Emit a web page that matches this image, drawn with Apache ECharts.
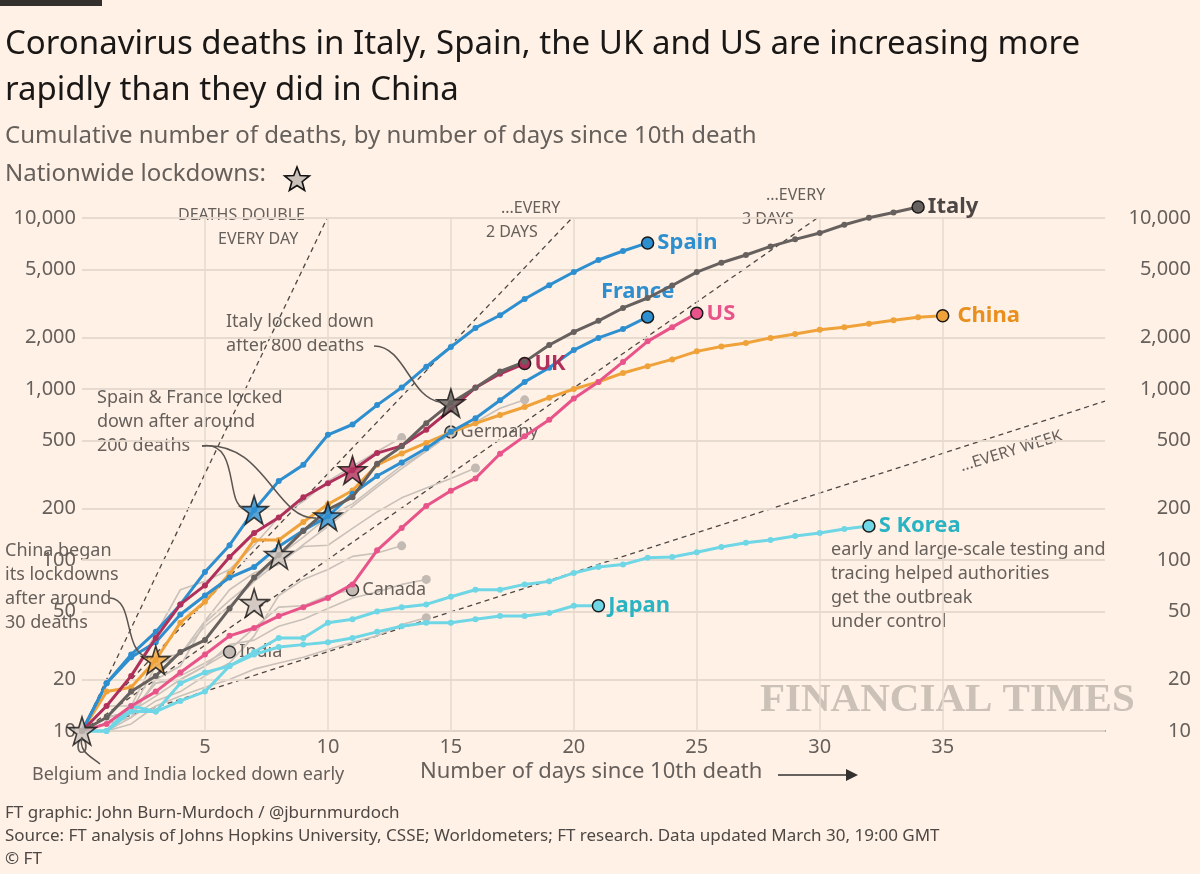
<!DOCTYPE html>
<html><head><meta charset="utf-8">
<script src="https://cdn.jsdelivr.net/npm/echarts@6/dist/echarts.min.js"></script>
<style>html,body{margin:0;padding:0;background:#fff1e5;}#c{width:1200px;height:874px;}</style>
</head><body><div id="c"></div>
<script>
// ---- data (cumulative deaths, index = days since 10th death)
const italy = [10,12,17,21,29,34,52,79,107,148,197,233,366,463,631,827,1016,1266,1441,1809,2158,2503,2978,3405,4032,4825,5476,6077,6820,7503,8165,9134,10023,10779,11591];
const spain = [10,19,28,38,55,85,122,196,290,360,540,620,805,1020,1350,1760,2275,2700,3360,4050,4830,5680,6410,7150];
const france = [10,19,27,33,48,62,79,91,120,149,180,244,310,372,450,562,674,860,1100,1331,1690,1990,2240,2640];
const uk = [10,14,21,35,55,71,104,144,177,233,281,335,422,465,578,759,1019,1228,1408];
const us = [10,11,14,17,22,28,36,40,47,53,60,72,114,154,207,254,300,418,530,660,880,1100,1440,1900,2300,2770];
const china = [10,17,18,26,43,57,83,131,131,167,212,255,360,420,484,560,630,705,785,890,1000,1100,1240,1360,1490,1660,1770,1860,1990,2100,2220,2300,2410,2520,2630,2680];
const skorea = [10,10,14,13,19,22,24,29,35,35,43,45,50,53,55,61,67,67,72,75,84,91,94,103,104,111,119,126,131,138,144,152,158];
const japan = [10,10,13,13,15,17,24,28,31,32,33,35,38,41,43,43,45,47,47,49,54,54];
const germany = [10,12,13,24,28,44,67,84,94,123,157,206,267,342,433,560];
const netherlands = [10,10,12,20,24,43,58,76,106,136,179,213,276,356,434,546,639,771,864];
const switzerland = [10,14,14,27,28,41,54,75,98,120,122,153,191,231,264,300,345];
const belgium = [10,14,21,37,67,75,88,122,178,220,289,353,431,520];
const sweden = [10,11,12,15,17,21,25,36,62,77,88,105,110,121];
const denmark = [10,12,13,16,20,24,32,34,41,45,52,60,65,72,77];
const other = [10,10,11,14,16,18,20,23,25,27,30,33,36,42,46];
const canada = [10,12,13,19,21,25,30,40,53,54,62,67];
const india = [10,12,13,19,20,24,29];
// lockdown stars: [day, deaths, fill]
const stars = [[0,10,'#c9c1ba'],[3,26,'#f0a23a'],[7,56,'#c9c1ba'],[8,107,'#c9c1ba'],[7,196,'#2e8fd0'],[10,180,'#2e8fd0'],[11,335,'#b0305c'],[15,827,'#66615e']];
// doubling guide endpoints
const guideDay = [[0,10],[9.97,10000]];
const guide2 = [[0,10],[19.93,10000]];
const guide3 = [[0,10],[29.9,10000]];
const guideWeek = [[0,10],[41.6,850]];
const yTicks = [10,20,50,100,200,500,1000,2000,5000,10000];
const xTicks = [5,10,15,20,25,30,35];

const STAR = 'path://M50,2 L61,36 L97,36 L68,57 L79,92 L50,71 L21,92 L32,57 L3,36 L39,36 Z';
const FONT = 'Noto Sans';
const toXY = a => a.map((v,i)=>[i,v]);

function main(name, arr, color, lab){
  const d = toXY(arr);
  const last = d.length-1;
  const data = d.map((p,i)=> i===last ? {value:p, symbolSize:12, itemStyle:{color:color,borderColor:'#1a1a1a',borderWidth:1.5},
     label:Object.assign({show:true,formatter:name,color:lab.tc||color,fontSize:22,fontWeight:'bold',fontFamily:FONT,position:'right',distance:3},lab.l||{})} : p);
  return {type:'line',name,data,clip:false,symbol:'circle',symbolSize:6,showSymbol:true,
    lineStyle:{color,width:3},itemStyle:{color},z:lab.z||5};
}
function grey(name, arr, lab){
  const d = toXY(arr), last=d.length-1;
  const data = d.map((p,i)=> i===last ? {value:p, symbol:'circle', symbolSize: lab?12:9,
    itemStyle:{color:'#c2bab3',borderColor: lab?'#333':'#c2bab3',borderWidth: lab?1.5:0},
    label: lab?{show:true,formatter:name,color:'#66605c',fontSize:18,fontFamily:FONT,position:'right',distance:3}:{show:false}} : {value:p,symbol:'none'});
  return {type:'line',name,data,symbol:'none',showSymbol:true,lineStyle:{color:'#c9c1ba',width:1.6},z:2};
}
function guide(d){
  return {type:'line',data:d,symbol:'none',silent:true,clip:false,lineStyle:{color:'#4d4845',width:1.3,type:[5,4]},z:1};
}
function starPts(cx,cy,r){
  const p=[];
  for(let i=0;i<10;i++){const a=-Math.PI/2+i*Math.PI/5;const rr=i%2?r*0.42:r;p.push([cx+rr*Math.cos(a),cy+rr*Math.sin(a)]);}
  return p;
}

const gridLines = [];
yTicks.forEach(v=>{
  const t = v.toLocaleString('en-US');
  gridLines.push({yAxis:v,label:{position:'start',formatter:t,distance:6}});
  gridLines.push({yAxis:v,label:{position:'end',formatter:t,align:'right',distance:86}});
});
xTicks.forEach(v=>gridLines.push({xAxis:v,label:{show:false}}));

const series = [
  {type:'line',data:[],markLine:{silent:true,symbol:'none',animation:false,
     lineStyle:{color:'#e6d9cc',width:1.5,type:'solid'},
     label:{color:'#66605c',fontSize:20,fontFamily:FONT},data:gridLines}},
  guide(guideDay),guide(guide2),guide(guide3),guide(guideWeek),
  grey('Netherlands',netherlands),grey('Switzerland',switzerland),grey('Belgium',belgium),
  grey('Sweden',sweden),grey('Denmark',denmark),grey('Other',other),
  grey('Germany',germany,true),grey('Canada',canada,true),grey('India',india,true),
  main('Japan',japan,'#6fd6e6',{tc:'#2ab4c3'}),
  main('S Korea',skorea,'#6fd6e6',{tc:'#2ab4c3'}),
  main('China',china,'#f0a23a',{tc:'#e88f1e',l:{distance:8}}),
  main('US',us,'#e8548a',{}),
  main('UK',uk,'#b0305c',{z:6}),
  main('France',france,'#2e8fd0',{l:{position:'top',offset:[-10,-4]}}),
  main('Italy',italy,'#66615e',{tc:'#4d4845',z:6}),
  main('Spain',spain,'#2e8fd0',{}),
  {type:'scatter',data:stars.map(s=>({value:[s[0],s[1]],itemStyle:{color:s[2]}})),symbol:STAR,symbolSize:28,
    itemStyle:{borderColor:'#111',borderWidth:1.6},z:10}
];

const txt = (x,y,t,o)=>({type:'text',left:x,top:y,style:Object.assign({text:t,fill:'#66605c',font:'18px "Noto Sans"',lineHeight:24},o||{})});
const small = (x,y,t)=>({type:'text',left:x,top:y,style:{text:t,fill:'#66605c',font:'16px "Noto Sans"'}});
const curve=(pts)=>({type:'bezierCurve',shape:{x1:pts[0],y1:pts[1],cpx1:pts[2],cpy1:pts[3],cpx2:pts[4],cpy2:pts[5],x2:pts[6],y2:pts[7]},style:{stroke:'#5a5552',lineWidth:1.5,fill:null},z:20});

const chart = echarts.init(document.getElementById('c'));
chart.setOption({
  backgroundColor:'#fff1e5',animation:false,
  grid:{left:82,right:95,top:218,bottom:143},
  xAxis:{type:'value',min:0,max:41.6,interval:5,splitLine:{show:false},
    axisLine:{lineStyle:{color:'#4d4845',width:1.5}},axisTick:{show:false},
    axisLabel:{color:'#66605c',fontSize:20,fontFamily:FONT,margin:6,formatter:v=>v<=35?v:''}},
  yAxis:{type:'log',logBase:10,min:10,max:10000,splitLine:{show:false},axisLine:{show:false},axisTick:{show:false},axisLabel:{show:false}},
  series,
  graphic:[
    {type:'rect',left:0,top:0,shape:{width:102,height:6},style:{fill:'#33302e'}},
    txt(5,22,'Coronavirus deaths in Italy, Spain, the UK and US are increasing more\nrapidly than they did in China',{fill:'#1a1817',font:'33px "Noto Sans"',lineHeight:46}),
    txt(5,124,'Cumulative number of deaths, by number of days since 10th death',{font:'24px "Noto Sans"'}),
    txt(5,162,'Nationwide lockdowns:',{font:'24px "Noto Sans"'}),
    {type:'polygon',shape:{points:starPts(297,180,13)},style:{fill:'#c9c1ba',stroke:'#111',lineWidth:1.6}},
    small(178,207,'DEATHS DOUBLE'), small(218,231,'EVERY DAY'),
    small(501,200,'...EVERY'), small(486,224,'2 DAYS'),
    small(766,187,'...EVERY'), small(742,211,'3 DAYS'),
    {type:'text',left:958,top:428,rotation:0.3,style:{text:'...EVERY WEEK',fill:'#66605c',font:'16px "Noto Sans"'}},
    txt(226,310,'Italy locked down\nafter 800 deaths'),
    txt(97,386,'Spain & France locked\ndown after around\n200 deaths'),
    txt(5,539,'China began\nits lockdowns\nafter around\n30 deaths'),
    txt(831,538,'early and large-scale testing and\ntracing helped authorities\nget the outbreak\nunder control'),
    txt(32,763,'Belgium and India locked down early'),
    txt(420,760,'Number of days since 10th death',{font:'22px "Noto Sans"'}),
    {type:'line',shape:{x1:778,y1:775,x2:848,y2:775},style:{stroke:'#33302e',lineWidth:1.5}},
    {type:'polygon',shape:{points:[[846,769],[858,775],[846,781]]},style:{fill:'#33302e'}},
    {type:'text',left:760,top:680,style:{text:'FINANCIAL TIMES',fill:'#ccc1b7',font:'bold 41px "Liberation Serif"'}},
    txt(5,801,'FT graphic: John Burn-Murdoch / @jburnmurdoch',{font:'17px "Noto Sans"',fill:'#4d4845'}),
    txt(5,824,'Source: FT analysis of Johns Hopkins University, CSSE; Worldometers; FT research. Data updated March 30, 19:00 GMT',{font:'17px "Noto Sans"',fill:'#4d4845'}),
    txt(5,847,'© FT',{font:'17px "Noto Sans"',fill:'#4d4845'}),
    curve([374,346,405,346,410,398,440,402]),
    curve([202,446,240,440,225,505,244,508]),
    curve([202,446,265,440,275,520,316,518]),
    curve([110,598,135,600,122,650,148,658]),
    curve([82,737,78,752,92,757,100,764])
  ]
});
</script></body></html>
